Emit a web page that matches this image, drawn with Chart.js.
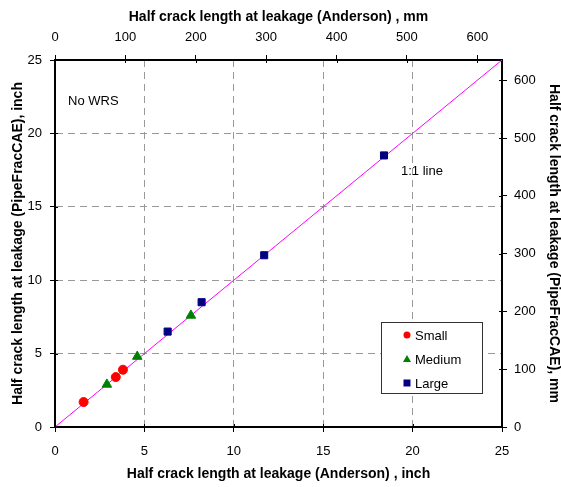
<!DOCTYPE html>
<html>
<head>
<meta charset="utf-8">
<script src="https://cdn.jsdelivr.net/npm/chart.js@4"></script>
<style>
  html, body { margin: 0; padding: 0; background: #fff; }
  #wrap { width: 561px; height: 487px; }
</style>
</head>
<body>
<div id="wrap"><canvas id="chart" width="561" height="487"></canvas></div>
<script>
// values (inch)
var smallX = [ 1.6, 3.4, 3.8 ];
var smallY = [ 1.7, 3.4, 3.9 ];
var mediumX = [ 2.9, 4.6, 7.6 ];
var mediumY = [ 2.9, 4.8, 7.6 ];
var largeX = [ 6.3, 8.2, 11.7, 18.4 ];
var largeY = [ 6.5, 8.5, 11.7, 18.5 ];
var lineX = [ 0, 25 ];
var lineY = [ 0, 25 ];
var mmTicks = [ 0, 100, 200, 300, 400, 500, 600 ];
var seriesNames = [ "Small", "Medium", "Large" ];
var MM = 25.4;

function pts( xs, ys ) {
    return xs.map( function ( x, i ) { return { x: x, y: ys[ i ] }; } );
}

var font = "Liberation Sans, Arial, sans-serif";
var tickFont = { family: font, size: 13 };
var titleFont = { family: font, size: 14, weight: "bold" };

var overlay = {
    id: "overlay",
    afterDatasetsDraw: function ( chart ) {
        var ctx = chart.ctx, a = chart.chartArea;
        ctx.save();
        ctx.fillStyle = "#000";
        ctx.font = "13px " + font;
        ctx.textBaseline = "middle";
        ctx.fillText( "No WRS", a.left + 13, a.top + 41 );
        ctx.fillText( "1:1 line", a.left + 346, a.top + 111 );

        // legend box
        var bx = 381, by = 322, bw = 101, bh = 71;
        ctx.fillStyle = "#fff";
        ctx.fillRect( bx, by, bw, bh );
        ctx.strokeStyle = "#333";
        ctx.lineWidth = 1;
        ctx.strokeRect( bx + 0.5, by + 0.5, bw, bh );
        var styles = [ "circle", "triangle", "rect" ];
        var colors = [ "#ff0000", "#008000", "#000080" ];
        for ( var i = 0; i < 3; i++ ) {
            var cy = by + 13 + i * 24;
            var mx = bx + 26;
            ctx.fillStyle = colors[ i ];
            ctx.beginPath();
            if ( styles[ i ] === "circle" ) {
                ctx.arc( mx, cy, 3.5, 0, Math.PI * 2 );
            } else if ( styles[ i ] === "triangle" ) {
                ctx.moveTo( mx, cy - 4 );
                ctx.lineTo( mx + 4, cy + 3 );
                ctx.lineTo( mx - 4, cy + 3 );
                ctx.closePath();
            } else {
                ctx.rect( mx - 3.5, cy - 3.5, 7, 7 );
            }
            ctx.fill();
            ctx.fillStyle = "#000";
            ctx.fillText( seriesNames[ i ], mx + 8, cy + 1 );
        }

        // small tick marks reaching inside the frame
        ctx.strokeStyle = "#000";
        ctx.lineWidth = 1;
        ctx.beginPath();
        [ "x", "x2", "y", "y2" ].forEach( function ( id ) {
            var s = chart.scales[ id ];
            s.ticks.forEach( function ( t ) {
                var p = Math.round( s.getPixelForValue( t.value ) ) + 0.5;
                if ( id === "x" ) { ctx.moveTo( p, a.bottom ); ctx.lineTo( p, a.bottom - 3 ); }
                if ( id === "x2" ) { ctx.moveTo( p, a.top ); ctx.lineTo( p, a.top + 3 ); }
                if ( id === "y" ) { ctx.moveTo( a.left, p ); ctx.lineTo( a.left + 3, p ); }
                if ( id === "y2" ) { ctx.moveTo( a.right, p ); ctx.lineTo( a.right - 3, p ); }
            } );
        } );
        ctx.stroke();
        ctx.restore();
    }
};

function fixSize( prop, v ) {
    return function ( s ) { s[ prop ] = v; };
}
function mmBuild( s ) {
    s.ticks = mmTicks.map( function ( v ) { return { value: v }; } );
}

new Chart( document.getElementById( "chart" ).getContext( "2d" ), {
    type: "scatter",
    data: {
        datasets: [
            {
                label: "1:1 line",
                type: "line",
                data: pts( lineX, lineY ),
                borderColor: "#ff00ff",
                borderWidth: 1,
                pointRadius: 0,
                fill: false,
                order: 5
            },
            {
                label: seriesNames[ 0 ],
                data: pts( smallX, smallY ),
                pointStyle: "circle",
                pointRadius: 4.5,
                backgroundColor: "#ff0000",
                borderColor: "#ff0000"
            },
            {
                label: seriesNames[ 1 ],
                data: pts( mediumX, mediumY ),
                pointStyle: "triangle",
                pointRadius: 5.5,
                backgroundColor: "#008000",
                borderColor: "#008000"
            },
            {
                label: seriesNames[ 2 ],
                data: pts( largeX, largeY ),
                pointStyle: "rect",
                pointRadius: 5,
                backgroundColor: "#000080",
                borderColor: "#000080"
            }
        ]
    },
    options: {
        responsive: false,
        animation: false,
        layout: { padding: 0 },
        plugins: {
            legend: { display: false },
            tooltip: { enabled: false }
        },
        scales: {
            x: {
                position: "bottom",
                min: 0, max: 25,
                ticks: { stepSize: 5, color: "#000", font: tickFont, padding: 12 },
                grid: { color: "#999", tickLength: 5, tickColor: "#000", tickBorderDash: [] },
                border: { color: "#000", width: 2, dash: [ 7, 5 ] },
                title: { display: true, text: "Half crack length at leakage (Anderson) , inch", color: "#000", font: titleFont, padding: { top: 0, bottom: 4 } },
                afterFit: fixSize( "height", 60 )
            },
            x2: {
                position: "top",
                min: 0, max: 25 * MM,
                afterBuildTicks: mmBuild,
                ticks: { color: "#000", font: tickFont, padding: 10 },
                grid: { drawOnChartArea: false, tickLength: 5, tickColor: "#000" },
                border: { color: "#000", width: 2 },
                title: { display: true, text: "Half crack length at leakage (Anderson) , mm", color: "#000", font: titleFont, padding: { top: 9, bottom: 0 } },
                afterFit: fixSize( "height", 60 )
            },
            y: {
                position: "left",
                min: 0, max: 25,
                ticks: { stepSize: 5, color: "#000", font: tickFont, padding: 8 },
                grid: { color: "#999", tickLength: 5, tickColor: "#000", tickBorderDash: [] },
                border: { color: "#000", width: 2, dash: [ 7, 5 ] },
                title: { display: true, text: "Half crack length at leakage (PipeFracCAE), inch", color: "#000", font: titleFont, padding: { top: 10, bottom: 0 } },
                afterFit: fixSize( "width", 55 )
            },
            y2: {
                position: "right",
                min: 0, max: 25 * MM,
                afterBuildTicks: mmBuild,
                ticks: { color: "#000", font: tickFont, padding: 7 },
                grid: { drawOnChartArea: false, tickLength: 5, tickColor: "#000" },
                border: { color: "#000", width: 2 },
                title: { display: true, text: "Half crack length at leakage (PipeFracCAE), mm", color: "#000", font: titleFont, padding: { top: -1, bottom: 0 } },
                afterFit: fixSize( "width", 59 )
            }
        }
    },
    plugins: [ overlay ]
} );
</script>
</body>
</html>
